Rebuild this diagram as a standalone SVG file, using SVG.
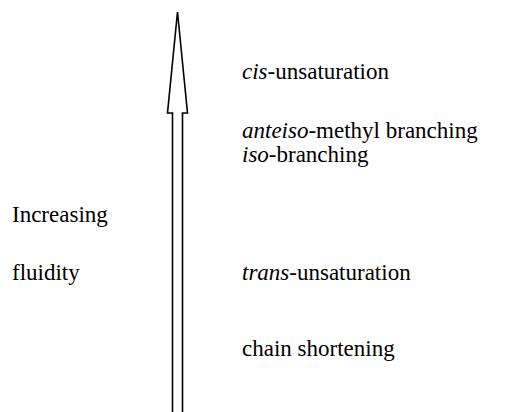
<svg xmlns="http://www.w3.org/2000/svg" width="507" height="412" viewBox="0 0 507 412">
<style>
.t{font-family:'Liberation Serif','Times New Roman',serif;font-size:23px;fill:#000}
.i{font-style:italic}
</style>
<rect width="507" height="412" fill="#fff"/>
<g id="connectors">
<path id="arrow" d="M172.5,415 L172.5,113 L167.5,113 L177.5,12 L187.5,113 L182.5,113 L182.5,415" fill="none" stroke="#000" stroke-width="1.6"/>
</g>
<g id="left-label">
<text class="t" x="12" y="222">Increasing</text>
<text class="t" x="12" y="280">fluidity</text>
</g>
<g id="cis"><text class="t" x="242" y="79"><tspan class="i">cis</tspan>-unsaturation</text></g>
<g id="anteiso"><text class="t" x="242" y="138"><tspan class="i">anteiso</tspan>-methyl branching</text></g>
<g id="iso"><text class="t" x="242" y="162"><tspan class="i">iso</tspan>-branching</text></g>
<g id="trans"><text class="t" x="242" y="280"><tspan class="i">trans</tspan>-unsaturation</text></g>
<g id="chain"><text class="t" x="242" y="356">chain shortening</text></g>
</svg>
